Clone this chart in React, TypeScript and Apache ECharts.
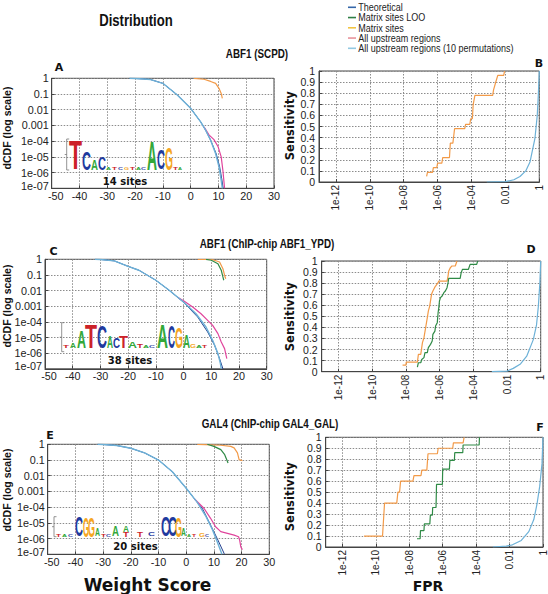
import React, { useEffect, useRef } from 'react';
import * as echarts from 'echarts';

// ---------------- data ----------------
// Left panels: [weight score, log10 dCDF]
const aTheo: [number, number][] = [[-22, 0], [-20, -0.01], [-17, -0.04], [-14.4, -0.08], [-10, -0.32], [-4.8, -1.06], [0, -1.91], [3.6, -2.77], [5.4, -3.3], [7.2, -3.94], [9.2, -4.8], [10.4, -5.6], [11.2, -6.4], [11.7, -7]];
const aPerm: [number, number][] = [[-22, 0], [-20, -0.01], [-17, -0.04], [-14.4, -0.08], [-10, -0.32], [-4.8, -1.06], [0, -1.91], [3.6, -2.77], [5.4, -3.3], [7.2, -3.94], [9, -4.8], [10.2, -5.64], [11, -6.5], [11.4, -7]];
const aUpstream: [number, number][] = [[4.8, -3.09], [6.6, -3.6], [8.4, -3.9], [9.9, -4.36], [11, -5], [11.6, -5.85], [12, -6.6], [12.2, -7]];
const aSites: [number, number][] = [[1.2, 0], [4.8, -0.06], [7.2, -0.2], [9, -0.32], [10.2, -0.64], [11, -0.96], [11.4, -1.28]];

const cTheo: [number, number][] = [[-32, 0], [-30, -0.01], [-25, -0.1], [-20, -0.45], [-16.1, -0.7], [-10, -1.34], [-5.2, -1.98], [0, -2.75], [5.1, -3.69], [8.7, -4.65], [11.2, -5.5], [13, -6.35], [14.2, -7]];
const cPerm: [number, number][] = [[-32, 0], [-30, -0.01], [-25, -0.1], [-20, -0.45], [-16.1, -0.7], [-10, -1.34], [-5.2, -1.98], [0, -2.73], [4.5, -3.48], [8.1, -4.33], [10.5, -5.18], [12.4, -6.03], [13.3, -6.67], [13.6, -7]];
const cUpstream: [number, number][] = [[-2, -2.44], [0, -2.65], [3.3, -3.05], [6.3, -3.48], [8.7, -3.9], [10.5, -4.22], [12.4, -4.75], [13.6, -5.29], [14.8, -5.71], [15.2, -6.03], [15.6, -6.35]];
const cSites: [number, number][] = [[5.1, 0], [10, 0], [13, -0.17], [14.2, -0.6], [14.8, -1.02], [15.2, -1.24]];
const cLoo: [number, number][] = [[8.1, 0], [10, -0.06], [12.4, -0.28], [13.6, -0.7], [14.2, -1.13], [14.5, -1.34]];

const eTheo: [number, number][] = [[-32, 0], [-30, -0.01], [-25, -0.08], [-20, -0.25], [-15, -0.55], [-10, -1.0], [-5, -1.75], [0, -2.8], [4, -3.7], [5.8, -4.07], [8.8, -5.14], [11.2, -6], [13.7, -6.95], [13.8, -7]];
const ePerm: [number, number][] = [[-32, 0], [-30, -0.01], [-25, -0.08], [-20, -0.25], [-15, -0.55], [-10, -1.0], [-5, -1.75], [0, -2.8], [4, -3.7], [7, -4.55], [9.4, -5.4], [11.2, -6.2], [12.5, -6.8], [12.9, -7]];
const eUpstream: [number, number][] = [[3, -3.48], [6.4, -4.07], [8.8, -4.71], [10.6, -5.25], [12.5, -5.56], [14.9, -5.67], [17.3, -5.78], [18.9, -5.88], [19.3, -6.1], [19.7, -6.52], [20, -6.63], [20.3, -6.7]];
const eSites: [number, number][] = [[4, 0], [12.5, -0.06], [16.1, -0.13], [17.3, -0.23], [18.5, -0.55], [19.1, -0.98], [20.3, -1.04]];
const eLoo: [number, number][] = [[7.6, 0], [10, -0.13], [12.5, -0.34], [13.9, -0.66], [14.9, -1.09], [15.1, -1.19]];

// Right panels: [log10 FPR, sensitivity]
const bSites: [number, number][] = [[-6.65, 0.05], [-6.6, 0.087], [-6.3, 0.087], [-6.25, 0.13], [-6.05, 0.13], [-6.0, 0.17], [-5.75, 0.17], [-5.7, 0.22], [-5.3, 0.22], [-5.25, 0.35], [-5.1, 0.35], [-5.0, 0.48], [-4.4, 0.48], [-4.35, 0.52], [-4.1, 0.52], [-4.05, 0.57], [-3.95, 0.57], [-3.9, 0.7], [-3.8, 0.78], [-2.75, 0.78], [-2.7, 0.83], [-2.55, 0.91], [-2.45, 0.96], [-2.1, 0.96], [-2.05, 1.0]];
const bPerm: [number, number][] = [[-3.1, 0], [-2, 0.003], [-1.5, 0.02], [-1.14, 0.05], [-0.8, 0.1], [-0.55, 0.18], [-0.26, 0.39], [-0.12, 0.6], [-0.06, 0.78], [0, 1.0]];

const dSites: [number, number][] = [[-8.2, 0.06], [-8.0, 0.06], [-7.98, 0.087], [-7.32, 0.087], [-7.26, 0.157], [-7.12, 0.157], [-7.02, 0.262], [-6.93, 0.307], [-6.83, 0.398], [-6.73, 0.488], [-6.67, 0.548], [-6.59, 0.593], [-6.48, 0.699], [-6.4, 0.729], [-6.3, 0.759], [-6.24, 0.774], [-6.09, 0.804], [-6.05, 0.819], [-5.56, 0.819], [-5.5, 0.864], [-5.46, 0.91], [-5.36, 0.94], [-5.27, 0.955], [-5.07, 0.955], [-4.97, 1.0]];
const dLoo: [number, number][] = [[-7.32, 0.042], [-7.26, 0.081], [-7.12, 0.081], [-7.06, 0.111], [-6.93, 0.127], [-6.87, 0.172], [-6.73, 0.172], [-6.67, 0.217], [-6.54, 0.247], [-6.44, 0.277], [-6.4, 0.337], [-6.28, 0.367], [-6.24, 0.413], [-6.14, 0.443], [-6.09, 0.533], [-6.05, 0.578], [-6.01, 0.639], [-5.95, 0.669], [-5.85, 0.684], [-5.75, 0.714], [-5.66, 0.729], [-5.56, 0.759], [-5.5, 0.804], [-5.46, 0.843], [-4.78, 0.843], [-4.72, 0.895], [-4.64, 0.925], [-4.29, 0.925], [-4.19, 0.97], [-3.8, 0.97], [-3.74, 1.0]];
const dPerm: [number, number][] = [[-2.9, 0], [-2, 0.005], [-1.63, 0.03], [-1.2, 0.07], [-0.83, 0.14], [-0.44, 0.29], [-0.25, 0.42], [-0.14, 0.59], [-0.05, 0.8], [0, 1.0]];

const fSites: [number, number][] = [[-10.71, 0.1], [-9.6, 0.1], [-9.48, 0.4], [-8.75, 0.4], [-8.68, 0.5], [-8.58, 0.5], [-8.52, 0.6], [-7.78, 0.6], [-7.72, 0.65], [-7.3, 0.65], [-7.25, 0.7], [-6.95, 0.7], [-6.88, 0.85], [-6.32, 0.85], [-6.27, 0.9], [-5.4, 0.9], [-5.36, 0.95], [-4.78, 0.95], [-4.72, 1.0]];
const fLoo: [number, number][] = [[-7.54, 0.075], [-7.35, 0.075], [-7.33, 0.15], [-7.12, 0.15], [-7.1, 0.21], [-6.77, 0.21], [-6.74, 0.29], [-6.62, 0.29], [-6.6, 0.36], [-6.4, 0.36], [-6.37, 0.57], [-6.02, 0.57], [-6.0, 0.71], [-5.6, 0.71], [-5.57, 0.79], [-5.3, 0.79], [-5.28, 0.86], [-4.8, 0.86], [-4.78, 0.93], [-3.82, 0.93], [-3.8, 1.0]];
const fPerm: [number, number][] = [[-3, 0], [-2.2, 0.008], [-1.83, 0.02], [-1.3, 0.06], [-0.85, 0.14], [-0.55, 0.25], [-0.36, 0.39], [-0.2, 0.55], [-0.06, 0.76], [0, 1.0]];

// Axis ticks
const scoreTicks = { min: -50, max: 30, interval: 10 };
const logCdfTicks = { min: -7, max: 0, interval: 1 };
const fprLabelExps = [-12, -10, -8, -6, -4, -2, 0];

// Legend
const legendNames = ['Theoretical', 'Matrix sites LOO', 'Matrix sites', 'All upstream regions', 'All upstream regions (10 permutations)'];
const legendColors = ['#3566a8', '#2f7f45', '#f2c443', '#e8939b', '#93c9e2'];

// Sequence logos: [letter, x, width, height, raise]
type L = [string, number, number, number, number?];
const logoA: L[] = [['T', 69, 13, 29], ['C', 82, 9, 18], ['A', 91, 7, 11], ['C', 98, 8, 13], ['A', 106, 5, 3], ['T', 112, 5, 2], ['C', 118, 5, 2], ['G', 124, 5, 2], ['T', 130, 5, 3], ['A', 136, 5, 2], ['C', 141, 5, 3], ['A', 147, 10, 29], ['C', 157, 8, 20], ['G', 165, 8, 22], ['T', 173, 5, 3], ['A', 178, 4, 2]];
const logoC: L[] = [['T', 63, 6, 3], ['A', 70, 6, 5], ['A', 77, 9, 17], ['T', 85, 12, 24], ['C', 97, 10, 23], ['A', 107, 6, 12], ['C', 113, 7, 10], ['T', 119, 9, 12], ['A', 128, 9, 6], ['T', 137, 6, 4], ['A', 143, 6, 3], ['C', 149, 6, 3], ['A', 157, 11, 24], ['C', 168, 7, 23], ['G', 175, 8, 21], ['A', 183, 7, 13], ['G', 190, 6, 4], ['A', 196, 6, 3], ['T', 202, 5, 2]];
const logoE: L[] = [['T', 56, 5, 3], ['A', 62, 5, 2], ['C', 68, 5, 2], ['C', 75, 8, 20], ['G', 83, 6, 20], ['G', 88, 7, 20], ['A', 95, 5, 8], ['T', 101, 5, 2], ['C', 106, 5, 2], ['A', 112, 7, 10], ['A', 123, 6, 6, 5], ['T', 123, 6, 5], ['T', 137, 6, 5], ['C', 148, 7, 4], ['C', 161, 9, 20], ['C', 168, 9, 20], ['G', 175, 7, 20], ['A', 181, 5, 8], ['A', 187, 4, 2], ['T', 192, 4, 2], ['G', 199, 6, 4], ['C', 205, 4, 2]];

// ---------------- styles ----------------
const ORANGE = '#f29a48';
const GREEN = '#2f8a46';
const PINK = '#e0449c';
const LBLUE = '#6db1d7';
const DBLUE = '#233f8e';
const LETTER_COLORS: Record<string, string> = { A: '#33a83a', C: '#1f3a9e', G: '#f5a623', T: '#cc2229' };
const ADV: Record<string, number> = { A: 0.722, C: 0.722, G: 0.778, T: 0.611 };

const grids = [
  { left: 51.7, top: 78.3, width: 222.3, height: 110 },
  { left: 319, top: 71, width: 220.3, height: 111 },
  { left: 45, top: 259.3, width: 221.7, height: 109.5 },
  { left: 321.7, top: 261, width: 219, height: 110.7 },
  { left: 47.7, top: 444.3, width: 221.6, height: 110 },
  { left: 325.7, top: 437.3, width: 219, height: 109.7 },
];

const TICK_FONT = '"Liberation Sans", Arial, sans-serif';
const gridLine = { show: true, lineStyle: { color: '#8c8c8c', type: [1.5, 1.5] as any, width: 1 } };
const axisLine = { show: true, onZero: false, lineStyle: { color: '#444', width: 1 } };
const tickText = { color: '#222', fontSize: 10.8, fontFamily: TICK_FONT };

function fmtLogCdf(v: number) {
  const e = Math.round(v);
  if (e === 0) return '1';
  if (e >= -3) return '0.' + '0'.repeat(-e - 1) + '1';
  const s = '1e-' + String(-e).padStart(2, '0');
  return e === -7 ? '{low|' + s + '}' : s;
}
function fmtScore(v: number) {
  return v === -50 ? '{first|-50}' : String(v);
}
function fmtFpr(v: number) {
  const e = Math.round(v);
  if (e === 0) return '1';
  if (e === -2) return '0.01';
  return '1e-' + String(-e).padStart(2, '0');
}
function fmtSens(v: number) {
  if (Math.abs(v) < 1e-9) return '0';
  if (Math.abs(v - 1) < 1e-9) return '1';
  return v.toFixed(1);
}

function narrowText(text: string, x: number, y: number, size: number, bold: boolean, align = 'center', scaleX = 0.82, fill = '#111') {
  return {
    type: 'text', x, y, scaleX, silent: true, z: 20,
    style: { text, font: `${bold ? 'bold ' : ''}${size}px "Liberation Sans", Arial, sans-serif`, fill, align, verticalAlign: 'middle' },
  };
}
function rotText(text: string, x: number, y: number, font: string) {
  return { type: 'text', x, y, rotation: Math.PI / 2, silent: true, z: 20, style: { text, font, fill: '#111', align: 'center', verticalAlign: 'middle' } };
}

function logo(items: L[], baseline: number, bx: number, btop: number, bbottom: number) {
  const S = 20;
  const els: any[] = items.map(([ch, x, w, h, raise]) => ({
    type: 'text', x, y: baseline - (raise || 0) - h / 2,
    scaleX: w / (ADV[ch] * S), scaleY: h / (0.716 * S), silent: true, z: 15,
    style: { text: ch, font: `bold ${S}px "Liberation Sans", Arial, sans-serif`, fill: LETTER_COLORS[ch], align: 'left', verticalAlign: 'middle' },
  }));
  els.push({ type: 'polyline', silent: true, z: 15, shape: { points: [[bx + 2.5, btop], [bx, btop], [bx, bbottom], [bx + 2.5, bbottom]] }, style: { stroke: '#777', lineWidth: 0.8, fill: null } });
  els.push({ type: 'line', silent: true, z: 15, shape: { x1: bx - 2, y1: (btop + bbottom) / 2, x2: bx, y2: (btop + bbottom) / 2 }, style: { stroke: '#777', lineWidth: 0.8 } });
  return els;
}

export default function App() {
  const ref = useRef<HTMLDivElement>(null);
  useEffect(() => {
    if (!ref.current) return;
    const chart = echarts.init(ref.current, undefined, { renderer: 'svg' });

    const xAxis: any[] = [];
    const yAxis: any[] = [];
    const tick = { show: true, inside: true, length: 3, lineStyle: { color: '#444' } };
    grids.forEach((_, i) => {
      const left = i % 2 === 0;
      if (left) {
        xAxis.push({
          type: 'value', gridIndex: i, ...scoreTicks, axisLine, axisTick: tick,
          axisLabel: { ...tickText, margin: 2, formatter: fmtScore, rich: { first: { ...tickText, padding: [0, 0, 0, 8] } } },
          splitLine: gridLine,
        });
        yAxis.push({
          type: 'value', gridIndex: i, ...logCdfTicks, axisLine, axisTick: tick,
          axisLabel: { ...tickText, margin: 3, formatter: fmtLogCdf, rich: { low: { ...tickText, padding: [0, 0, 5, 0] } } },
          splitLine: gridLine,
        });
      } else {
        xAxis.push({
          type: 'value', gridIndex: i, min: -13, max: 0, interval: 1, axisLine,
          axisTick: { ...tick, customValues: fprLabelExps },
          axisLabel: { color: '#222', fontSize: 10, fontFamily: TICK_FONT, margin: 3, rotate: 90, customValues: fprLabelExps, formatter: fmtFpr },
          splitLine: gridLine,
        });
        yAxis.push({
          type: 'value', gridIndex: i, min: 0, max: 1, interval: 0.1, axisLine, axisTick: tick,
          axisLabel: { color: '#222', fontSize: 10.5, fontFamily: TICK_FONT, margin: 4, formatter: fmtSens },
          splitLine: gridLine,
        });
      }
    });

    const line = (g: number, name: string, data: [number, number][], color: string, z: number, width = 1.2) => ({
      type: 'line', name, xAxisIndex: g, yAxisIndex: g, data, showSymbol: false, symbol: 'none',
      lineStyle: { color, width }, itemStyle: { color }, z, silent: true, clip: true,
    });

    const series = [
      line(0, 'Theoretical', aTheo, DBLUE, 2, 1.0), line(0, 'All upstream regions', aUpstream, PINK, 3), line(0, 'All upstream regions (10 permutations)', aPerm, LBLUE, 4, 1.4), line(0, 'Matrix sites', aSites, ORANGE, 5),
      line(1, 'All upstream regions (10 permutations)', bPerm, LBLUE, 4), line(1, 'Matrix sites', bSites, ORANGE, 5),
      line(2, 'Theoretical', cTheo, DBLUE, 2, 1.0), line(2, 'All upstream regions', cUpstream, PINK, 3), line(2, 'All upstream regions (10 permutations)', cPerm, LBLUE, 4, 1.4), line(2, 'Matrix sites', cSites, ORANGE, 5), line(2, 'Matrix sites LOO', cLoo, GREEN, 6),
      line(3, 'All upstream regions (10 permutations)', dPerm, LBLUE, 4), line(3, 'Matrix sites', dSites, ORANGE, 5), line(3, 'Matrix sites LOO', dLoo, GREEN, 6),
      line(4, 'Theoretical', eTheo, DBLUE, 2, 1.0), line(4, 'All upstream regions', eUpstream, PINK, 3), line(4, 'All upstream regions (10 permutations)', ePerm, LBLUE, 4, 1.4), line(4, 'Matrix sites', eSites, ORANGE, 5), line(4, 'Matrix sites LOO', eLoo, GREEN, 6),
      line(5, 'All upstream regions (10 permutations)', fPerm, LBLUE, 4), line(5, 'Matrix sites', fSites, ORANGE, 5), line(5, 'Matrix sites LOO', fLoo, GREEN, 6),
    ];

    const graphic: any[] = [];
    // titles
    graphic.push(narrowText('Distribution', 136, 20.5, 16, true));
    graphic.push(narrowText('ABF1 (SCPD)', 257, 53.3, 12, true));
    graphic.push(narrowText('ABF1 (ChIP-chip ABF1_YPD)', 267, 243.5, 12, true));
    graphic.push(narrowText('GAL4 (ChIP-chip GAL4_GAL)', 270, 423.5, 12, true));
    // panel letters
    const letterFont = 'bold 11px "DejaVu Sans", sans-serif';
    [['A', 59, 67], ['B', 539, 63], ['C', 53.5, 251], ['D', 531, 249], ['E', 50, 435.5], ['F', 540, 427]].forEach(([t, x, y]) => {
      graphic.push({ type: 'text', x, y, silent: true, z: 20, style: { text: t, font: letterFont, fill: '#111', align: 'center', verticalAlign: 'middle' } });
    });
    // axis titles
    const dcdfFont = 'bold 10.5px "Liberation Sans", Arial, sans-serif';
    graphic.push(rotText('dCDF (log scale)', 7, 128, dcdfFont));
    graphic.push(rotText('dCDF (log scale)', 7, 306, dcdfFont));
    graphic.push(rotText('dCDF (log scale)', 7, 490, dcdfFont));
    const sensFont = 'bold 11.5px "DejaVu Sans", sans-serif';
    graphic.push(rotText('Sensitivity', 290, 125.7, sensFont));
    graphic.push(rotText('Sensitivity', 290, 316.7, sensFont));
    graphic.push(rotText('Sensitivity', 290, 496.7, sensFont));
    graphic.push({ type: 'text', x: 147.5, y: 584.5, silent: true, style: { text: 'Weight Score', font: 'bold 17px "DejaVu Sans", sans-serif', fill: '#111', align: 'center', verticalAlign: 'middle' } });
    graphic.push({ type: 'text', x: 428, y: 585.5, silent: true, style: { text: 'FPR', font: 'bold 14px "DejaVu Sans", sans-serif', fill: '#111', align: 'center', verticalAlign: 'middle' } });
    // legend
    legendNames.forEach((n, i) => {
      const y = 7.3 + i * 10.25;
      graphic.push({ type: 'line', silent: true, shape: { x1: 348, y1: y, x2: 356, y2: y }, style: { stroke: legendColors[i], lineWidth: 1.6 } });
      graphic.push(narrowText(n, 358.3, y, 11, false, 'left', 0.82, '#222'));
    });
    // logos
    graphic.push(...logo(logoA, 170, 66.7, 139, 170));
    graphic.push(...logo(logoC, 348.3, 61.7, 322.7, 351.7));
    graphic.push(...logo(logoE, 536.7, 54, 516.7, 536.7));
    const sitesFont = 'bold 10px "DejaVu Sans", sans-serif';
    [['14 sites', 125, 181], ['38 sites', 130, 360.7], ['20 sites', 135.5, 546.7]].forEach(([t, x, y]) => {
      graphic.push({ type: 'text', x, y, silent: true, z: 20, style: { text: t, font: sitesFont, fill: '#111', align: 'center', verticalAlign: 'middle' } });
    });

    chart.setOption({
      animation: false,
      backgroundColor: '#ffffff',
      grid: grids.map((g) => ({ ...g, show: true, borderColor: '#444', borderWidth: 1, backgroundColor: 'transparent', containLabel: false })),
      xAxis,
      yAxis,
      series,
      graphic,
    });
    return () => chart.dispose();
  }, []);
  return <div ref={ref} style={{ position: 'fixed', left: 0, top: 0, width: 548, height: 594 }} />;
}
